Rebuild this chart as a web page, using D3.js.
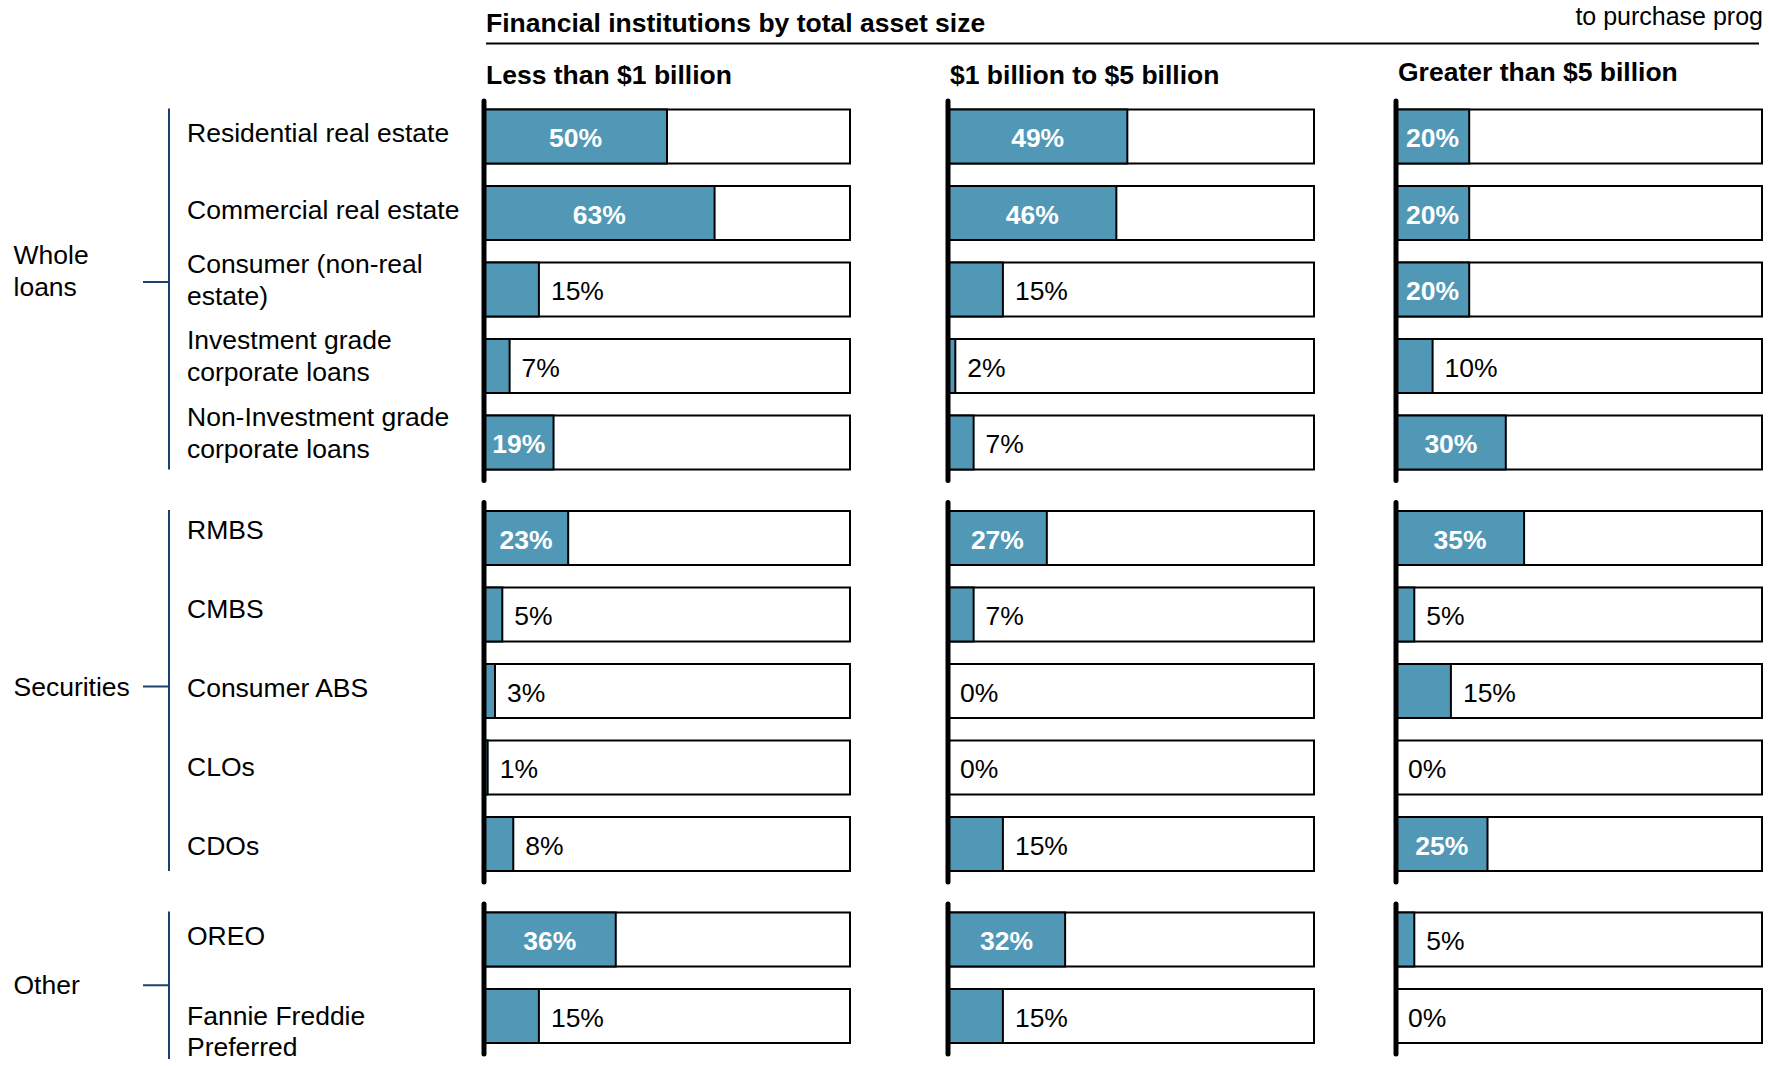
<!DOCTYPE html>
<html>
<head>
<meta charset="utf-8">
<script src="https://cdn.jsdelivr.net/npm/d3@7"></script>
<style>
  html, body { margin: 0; padding: 0; background: #fff; }
  svg { display: block; font-family: "Liberation Sans", Arial, Helvetica, sans-serif; }
</style>
</head>
<body>
<svg id="chart" width="1769" height="1066"></svg>
<script>
// Asset types (label lines) and the group each belongs to
const categories = [
  ["Residential real estate"],
  ["Commercial real estate"],
  ["Consumer (non-real", "estate)"],
  ["Investment grade", "corporate loans"],
  ["Non-Investment grade", "corporate loans"],
  ["RMBS"],
  ["CMBS"],
  ["Consumer ABS"],
  ["CLOs"],
  ["CDOs"],
  ["OREO"],
  ["Fannie Freddie", "Preferred"]
];
const categoryGroup = [0, 0, 0, 0, 0, 1, 1, 1, 1, 1, 2, 2];
const groups = [["Whole", "loans"], ["Securities"], ["Other"]];

// Institution size buckets
const columns = ["Less than $1 billion", "$1 billion to $5 billion", "Greater than $5 billion"];

// Share of institutions (%) per asset type, one array per size bucket
const lessThan1B    = [50, 63, 15, 7, 19, 23, 5, 3, 1, 8, 36, 15];
const from1To5B     = [49, 46, 15, 2, 7, 27, 7, 0, 0, 15, 32, 15];
const greaterThan5B = [20, 20, 20, 10, 30, 35, 5, 15, 0, 25, 5, 0];
const seriesValues = [lessThan1B, from1To5B, greaterThan5B];

const title = "Financial institutions by total asset size";
const cornerNote = "to purchase prog";

// ---- layout ----
const svg = d3.select("#chart");
const FONT = 26.5;
const BLUE = "#5198b6";
const NAVY = "#1d3f6e";
const colX = [484, 948, 1396];
const barW = 366;
const barH = 54;
const rowPitch = 76.5;
const groupGap = 19;
const firstTop = 109.5;
const labelPitch = [76.5, 79, 76.5];   // vertical spacing of row labels per group
const tickShift = [-7, -4, 0];         // bracket tick offset from bracket middle

const x = d3.scaleLinear().domain([0, 100]).range([0, barW]);
const rowScale = d3.scaleLinear().domain([0, 1]).range([firstTop, firstTop + rowPitch]);
const rowTop = i => rowScale(i) + categoryGroup[i] * groupGap;
const rowMid = i => rowTop(i) + barH / 2;
const groupRows = g => d3.range(categories.length).filter(i => categoryGroup[i] === g);

svg.append("rect").attr("width", 1769).attr("height", 1066).attr("fill", "#fff");

// Title and rule
svg.append("text").attr("x", 486).attr("y", 31.5)
  .attr("font-size", FONT).attr("font-weight", "bold").text(title);
svg.append("line").attr("x1", 486).attr("x2", 1759).attr("y1", 43.5).attr("y2", 43.5)
  .attr("stroke", "#000").attr("stroke-width", 2);
svg.append("text").attr("x", 1763).attr("y", 25).attr("text-anchor", "end")
  .attr("font-size", 25).text(cornerNote);

// Column headers
const headerY = [84, 84, 81];
svg.selectAll("text.colhead").data(columns).join("text")
  .attr("class", "colhead")
  .attr("x", (d, j) => colX[j] + 2)
  .attr("y", (d, j) => headerY[j])
  .attr("font-size", FONT).attr("font-weight", "bold")
  .text(d => d);

// Row labels
const labelX = 187;
const rowLabels = svg.append("g");
categories.forEach((lines, i) => {
  const g = categoryGroup[i];
  const rows = groupRows(g);
  const k0 = rows.indexOf(i);
  const gMid = (rowMid(rows[0]) + rowMid(rows[rows.length - 1])) / 2;
  const mid = gMid + (k0 - (rows.length - 1) / 2) * labelPitch[g];
  const n = lines.length;
  const topAligned = g === groups.length - 1;
  const t = rowLabels.append("text").attr("font-size", FONT);
  lines.forEach((ln, k) => {
    let y;
    if (n === 1) y = mid + 5.5;
    else if (topAligned) y = mid + 9 + k * 31;
    else y = mid - 17 + k * 32;
    t.append("tspan").attr("x", labelX).attr("y", y).text(ln);
  });
});

// Group brackets and labels
groups.forEach((lines, g) => {
  const idx = groupRows(g);
  const first = idx[0], last = idx[idx.length - 1];
  const lastLines = categories[last].length;
  const lastLabelBottom = lastLines > 1 && g === groups.length - 1
    ? rowMid(last) + 9 + (lastLines - 1) * 31 + 3 : 0;
  const top = rowTop(first) - 1;
  const bottom = Math.max(rowTop(last) + barH, lastLabelBottom);
  const c = (top + bottom) / 2 + tickShift[g];
  svg.append("line").attr("x1", 169).attr("x2", 169).attr("y1", top).attr("y2", bottom)
    .attr("stroke", NAVY).attr("stroke-width", 2);
  svg.append("line").attr("x1", 143).attr("x2", 169).attr("y1", c).attr("y2", c)
    .attr("stroke", NAVY).attr("stroke-width", 2);
  const n = lines.length;
  const t = svg.append("text").attr("font-size", FONT);
  lines.forEach((ln, k) => {
    const y = n === 1 ? c + 9 : c - 18 + k * 32;
    t.append("tspan").attr("x", 13.5).attr("y", y).text(ln);
  });
});

// Bars per column
columns.forEach((col, j) => {
  const values = seriesValues[j];
  const gcol = svg.append("g").attr("transform", `translate(${colX[j]},0)`);

  // outer frames
  gcol.selectAll("rect.frame").data(values).join("rect")
    .attr("class", "frame")
    .attr("x", 0).attr("y", (d, i) => rowTop(i))
    .attr("width", x(100)).attr("height", barH)
    .attr("fill", "#fff").attr("stroke", "#000").attr("stroke-width", 2);

  // value fills
  gcol.selectAll("rect.fill").data(values.map((v, i) => ({ v, i })).filter(d => d.v > 0)).join("rect")
    .attr("class", "fill")
    .attr("x", 0).attr("y", d => rowTop(d.i))
    .attr("width", d => x(d.v)).attr("height", barH)
    .attr("fill", BLUE).attr("stroke", "#000").attr("stroke-width", 2);

  // value labels: inside (white, bold) for wide fills, otherwise just past the fill
  gcol.selectAll("text.val").data(values).join("text")
    .attr("class", "val")
    .attr("font-size", FONT)
    .attr("font-weight", d => d >= 18 ? "bold" : "normal")
    .attr("fill", d => d >= 18 ? "#fff" : "#000")
    .attr("text-anchor", d => d >= 18 ? "middle" : "start")
    .attr("x", d => d >= 18 ? x(d) / 2 : x(d) + 12)
    .attr("y", (d, i) => rowMid(i))
    .attr("dy", "0.4em")
    .text(d => d + "%");

  // thick baseline per group
  groups.forEach((gl, g) => {
    const idx = groupRows(g);
    const y1 = rowTop(idx[0]) - 8.5;
    const y2 = rowTop(idx[idx.length - 1]) + barH + 11;
    gcol.append("line").attr("x1", 0).attr("x2", 0).attr("y1", y1).attr("y2", y2)
      .attr("stroke", "#000").attr("stroke-width", 5).attr("stroke-linecap", "round");
  });
});
</script>
</body>
</html>
